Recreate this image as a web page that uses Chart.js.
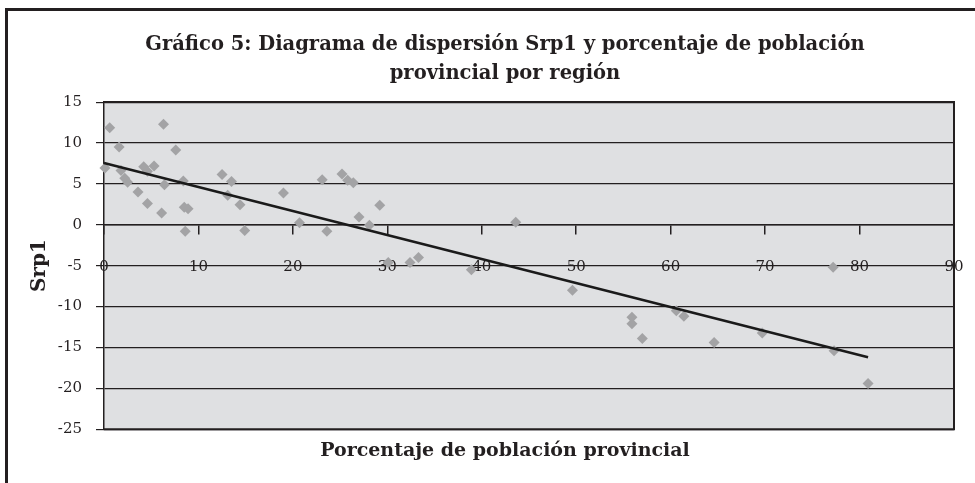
<!DOCTYPE html>
<html>
<head>
<meta charset="utf-8">
<script src="https://cdn.jsdelivr.net/npm/chart.js@4.4.1/dist/chart.umd.min.js"></script>
<style>
html,body{margin:0;padding:0;background:#ffffff;}
#wrap{width:975px;height:483px;position:relative;}
</style>
</head>
<body>
<div id="wrap"><canvas id="c"></canvas></div>
<script>
// Scatter data: Porcentaje de población provincial (x) vs Srp1 (y)
const xValues = [0.1, 0.6, 1.6, 1.8, 2.2, 2.5, 3.6, 4.2, 4.6, 5.3,
                 4.6, 6.3, 6.1, 6.4, 7.6, 8.4, 8.5, 8.9, 8.6, 12.5,
                 13.5, 13.1, 14.4, 14.9, 19.0, 20.7, 23.1, 23.6, 25.2, 25.8,
                 26.4, 27.0, 28.1, 29.2, 30.1, 32.4, 33.3, 38.9, 43.6, 49.6,
                 55.9, 55.9, 57.0, 60.6, 61.4, 64.6, 69.7, 77.2, 77.3, 80.9];
const yValues = [6.95, 11.85, 9.5, 6.65, 5.7, 5.2, 4.0, 7.1, 6.55, 7.2,
                 2.6, 12.3, 1.45, 4.9, 9.15, 5.35, 2.15, 1.95, -0.8, 6.15,
                 5.3, 3.6, 2.45, -0.7, 3.9, 0.25, 5.5, -0.8, 6.2, 5.45,
                 5.15, 0.95, -0.05, 2.4, -4.6, -4.6, -4.0, -5.5, 0.3, -8.0,
                 -11.3, -12.1, -13.9, -10.5, -11.2, -14.4, -13.25, -5.2, -15.4, -19.4];
// Linear trendline endpoints
const trendX = [0, 80.9];
const trendY = [7.55, -16.2];
// Axis ticks
const xTicks = [0, 10, 20, 30, 40, 50, 60, 70, 80, 90];
const yTicks = [-25, -20, -15, -10, -5, 0, 5, 10, 15];

const titleLines = ['Gráfico 5: Diagrama de dispersión Srp1 y porcentaje de población', 'provincial por región'];
const xTitle = 'Porcentaje de población provincial';
const yTitle = 'Srp1';

const FONT = '"DejaVu Serif", "Liberation Serif", serif';
const TEXT = '#231f20';

const points = xValues.map((x, i) => ({x: x, y: yValues[i]}));
const trend = trendX.map((x, i) => ({x: x, y: trendY[i]}));

const framePlugin = {
  id: 'frame',
  beforeDraw(chart) {
    const {ctx, chartArea: a} = chart;
    ctx.save();
    ctx.fillStyle = '#dfe0e2';
    ctx.fillRect(a.left, a.top, a.right - a.left, a.bottom - a.top);
    ctx.restore();
  },
  afterDraw(chart) {
    const {ctx, chartArea: a} = chart;
    ctx.save();
    ctx.strokeStyle = '#231f20';
    ctx.lineWidth = 2;
    ctx.beginPath();
    ctx.moveTo(a.left, a.top);
    ctx.lineTo(a.right, a.top);
    ctx.lineTo(a.right, a.bottom);
    ctx.lineTo(a.left, a.bottom);
    ctx.stroke();
    // outer frame
    ctx.lineWidth = 3;
    ctx.beginPath();
    ctx.moveTo(6.5, 483);
    ctx.lineTo(6.5, 9.5);
    ctx.lineTo(975, 9.5);
    ctx.stroke();
    ctx.restore();
  }
};

new Chart(document.getElementById('c'), {
  type: 'scatter',
  data: {
    datasets: [
      {
        label: 'Srp1',
        data: points,
        pointStyle: 'rectRot',
        pointRadius: 5.5,
        pointHoverRadius: 5.5,
        backgroundColor: '#a3a3a5',
        borderColor: '#a3a3a5',
        borderWidth: 0,
        clip: false,
        order: 2
      },
      {
        label: 'Lineal (Srp1)',
        type: 'line',
        data: trend,
        showLine: true,
        borderColor: '#1a1a1a',
        borderWidth: 2.5,
        pointRadius: 0,
        fill: false,
        clip: false,
        order: 1
      }
    ]
  },
  options: {
    responsive: true,
    maintainAspectRatio: false,
    animation: false,
    layout: {padding: {left: 56, right: 21, top: 0, bottom: 0}},
    plugins: {
      legend: {display: false},
      tooltip: {enabled: false},
      title: {
        display: true,
        text: titleLines,
        color: TEXT,
        font: {family: FONT, size: 19.5, weight: 'bold', lineHeight: 1.49},
        padding: {top: 30, bottom: 14}
      },
      subtitle: {
        display: true,
        position: 'bottom',
        text: xTitle,
        color: TEXT,
        font: {family: FONT, size: 19, weight: 'bold', lineHeight: 1.2},
        padding: {top: 10, bottom: 21}
      }
    },
    scales: {
      x: {
        type: 'linear',
        position: {y: 0},
        min: 0,
        max: 90,
        z: 1,
        afterBuildTicks(scale) { scale.ticks = xTicks.map(v => ({value: v})); },
        afterFit(scale) { scale.paddingLeft = 0; scale.paddingRight = 0; },
        ticks: {color: TEXT, font: {family: FONT, size: 15}, padding: 24, maxRotation: 0},
        grid: {drawOnChartArea: false, drawTicks: true, tickLength: 9, color: '#231f20', lineWidth: 1.5},
        border: {display: true, color: '#231f20', width: 1.5}
      },
      y: {
        type: 'linear',
        position: 'left',
        min: -25,
        max: 15,
        afterBuildTicks(scale) { scale.ticks = yTicks.map(v => ({value: v})); },
        afterFit(scale) { scale.width = 48; },
        ticks: {color: TEXT, font: {family: FONT, size: 15}, padding: 14},
        grid: {drawOnChartArea: true, drawTicks: true, tickLength: 8, color: '#231f20', lineWidth: 1.2},
        border: {display: true, color: '#231f20', width: 1.5},
        title: {
          display: true,
          text: yTitle,
          color: TEXT,
          font: {family: FONT, size: 20, weight: 'bold', lineHeight: 1.2},
          padding: {top: -28, bottom: 0}
        }
      }
    }
  },
  plugins: [framePlugin]
});
</script>
</body>
</html>
